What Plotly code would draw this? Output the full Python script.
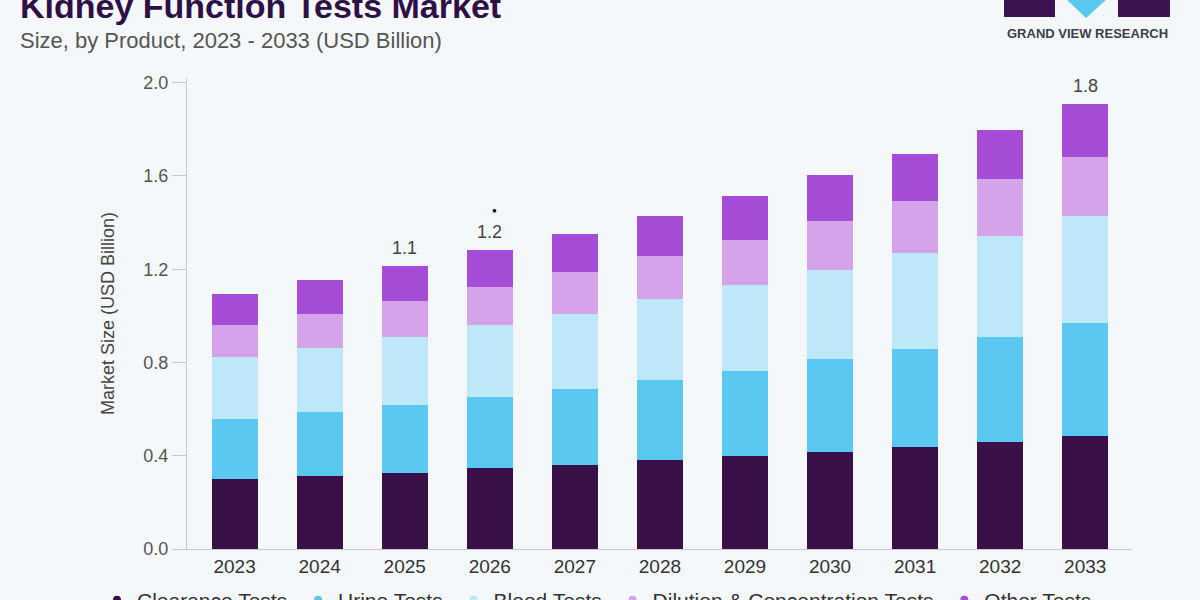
import plotly.graph_objects as go

years = ["2023", "2024", "2025", "2026", "2027", "2028", "2029", "2030", "2031", "2032", "2033"]
clearance = [0.300, 0.313, 0.327, 0.346, 0.359, 0.381, 0.399, 0.414, 0.439, 0.460, 0.486]
urine = [0.258, 0.273, 0.290, 0.304, 0.327, 0.343, 0.366, 0.399, 0.420, 0.450, 0.482]
blood = [0.266, 0.277, 0.293, 0.310, 0.324, 0.347, 0.367, 0.383, 0.411, 0.433, 0.460]
dilution = [0.137, 0.147, 0.153, 0.164, 0.176, 0.184, 0.194, 0.211, 0.223, 0.242, 0.254]
other = [0.133, 0.143, 0.150, 0.157, 0.164, 0.174, 0.187, 0.195, 0.203, 0.214, 0.226]

series_names = ["Clearance Tests", "Urine Tests", "Blood Tests",
                "Dilution & Concentration Tests", "Other Tests"]
series_colors = ["#3a1049", "#5bc8f2", "#bde8f9", "#d4a3ea", "#a54dd6"]

label_years = ["2025", "2026", "2033"]
label_texts = ["1.1", "1.2", "1.8"]

y_ticks = [0.0, 0.4, 0.8, 1.2, 1.6, 2.0]

BG = "#f5f8fb"
L, R, T, B = 187, 68, 78, 51
W, H = 1200, 600
PW, PH = W - L - R, H - T - B


def px(x):
    return (x - L) / PW


def py(y):
    return (H - B - y) / PH


fig = go.Figure()
all_series = [clearance, urine, blood, dilution, other]
for name, vals, col in zip(series_names, all_series, series_colors):
    fig.add_trace(go.Bar(x=years, y=vals, name=name, marker=dict(color=col, line=dict(width=0)),
                         width=0.54, showlegend=False))
for name, col in zip(series_names, series_colors):
    # a trailing non-breaking space widens the gap between legend entries
    fig.add_trace(go.Scatter(x=[None], y=[None], mode="markers", name=name + "\u00a0",
                             marker=dict(color=col, size=8, symbol="circle")))

totals = [sum(v) for v in zip(*all_series)]
for yr, txt in zip(label_years, label_texts):
    i = years.index(yr)
    fig.add_annotation(x=i, y=totals[i], text=txt, showarrow=False, yanchor="middle",
                       yshift=18, font=dict(size=18, color="#444444", family="Liberation Sans"))
# small dot above the 2026 label, as in the reference
i26 = years.index("2026")
fig.add_annotation(x=i26, y=totals[i26], text="●", showarrow=False, yanchor="middle",
                   yshift=40, xshift=5, font=dict(size=8, color="#000000"))

# Title and subtitle
fig.add_annotation(xref="paper", yref="paper", x=px(18), y=py(6), xanchor="left", yanchor="middle",
                   text="<b>Kidney Function Tests Market</b>", showarrow=False,
                   font=dict(size=34, color="#2e1046", family="Liberation Sans"))
fig.add_annotation(xref="paper", yref="paper", x=px(18), y=py(40), xanchor="left", yanchor="middle",
                   text="Size, by Product, 2023 - 2033 (USD Billion)", showarrow=False,
                   font=dict(size=22, color="#555555", family="Liberation Sans"))

# Logo
LOGO_DARK = "#3b1451"
fig.add_shape(type="rect", xref="paper", yref="paper", x0=px(1004), x1=px(1055), y0=py(-5), y1=py(17),
              fillcolor=LOGO_DARK, line=dict(width=0), layer="above")
fig.add_shape(type="path", xref="paper", yref="paper",
              path=f"M {px(1065)} {py(-2)} L {px(1108)} {py(-2)} L {px(1086)} {py(18)} Z",
              fillcolor="#5bc8f0", line=dict(width=0), layer="above")
fig.add_shape(type="rect", xref="paper", yref="paper", x0=px(1118), x1=px(1170), y0=py(-5), y1=py(17),
              fillcolor=LOGO_DARK, line=dict(width=0), layer="above")
fig.add_annotation(xref="paper", yref="paper", x=px(1087), y=py(33), xanchor="center", yanchor="middle",
                   text="<b>GRAND VIEW RESEARCH</b>", showarrow=False,
                   font=dict(size=13, color="#3c3c4c", family="Liberation Sans"))

fig.update_layout(
    width=W, height=H,
    barmode="stack",
    paper_bgcolor=BG, plot_bgcolor=BG,
    margin=dict(l=L, r=R, t=T, b=B, autoexpand=False),
    font=dict(family="Liberation Sans", color="#333333"),
    showlegend=True,
    legend=dict(orientation="h", traceorder="normal", x=px(97), y=py(600), xanchor="left",
                yanchor="middle", font=dict(size=21, color="#333333"), bgcolor="rgba(0,0,0,0)"),
    xaxis=dict(type="category", range=[-0.56, 10.55], showline=True, linecolor="#c9c9c9",
               linewidth=1, ticks="", showgrid=False, zeroline=False,
               tickfont=dict(size=19, color="#333333")),
    yaxis=dict(range=[0, 2.02], showline=True, linecolor="#c9c9c9", linewidth=1,
               ticks="outside", ticklen=14, tickcolor="#c9c9c9", tickvals=y_ticks,
               ticktext=[f"{v:.1f}" for v in y_ticks], showgrid=False, zeroline=False,
               tickfont=dict(size=18, color="#555555"),
               title=dict(text="Market Size (USD Billion)", standoff=24,
                          font=dict(size=18, color="#444444"))),
)

fig.write_html("out.html")
